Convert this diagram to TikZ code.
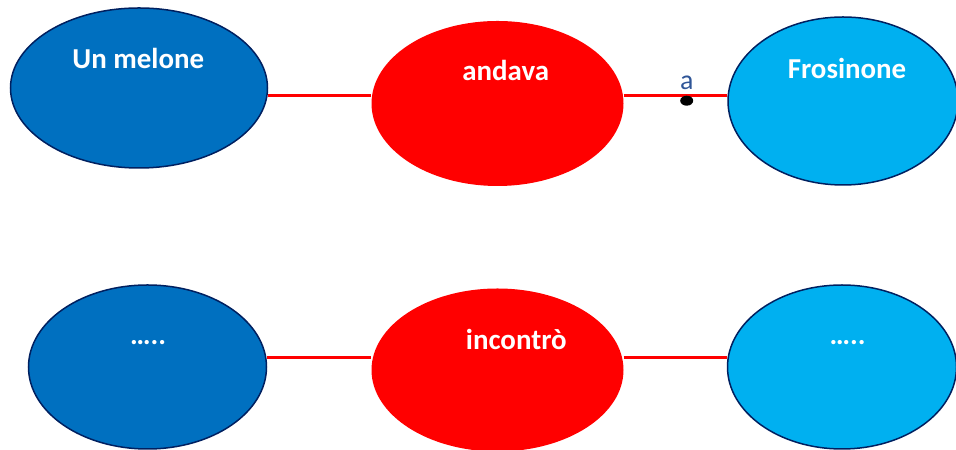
\documentclass[tikz,border=0pt]{standalone}
\usepackage{fontspec}
\setmainfont{Carlito}
\usetikzlibrary{shapes.geometric}
\definecolor{nodeblue1}{HTML}{0070C0}
\definecolor{nodeblue2}{HTML}{00B0F0}
\definecolor{nodeblue3}{HTML}{002060}
\definecolor{nodered1}{HTML}{FF0000}
\definecolor{labelblue}{HTML}{2F5597}
\tikzset{
  parola/.style={ellipse, inner sep=0pt},
  bordo/.style={draw=nodeblue3, line width=1.5bp},
  testo/.style={anchor=base, inner sep=0pt, text=white, font=\fontsize{29}{34}\selectfont\bfseries},
  legame/.style={draw=nodered1, line width=2.6bp}
}

\begin{document}
\begin{tikzpicture}[x=1bp,y=1bp]
   \useasboundingbox (0,0) rectangle (956,450);
   % prima frase
   \node(sogg1)[parola, bordo, fill=nodeblue1, minimum width=257bp, minimum height=160bp] at (139,362) {};
   \node(verbo1)[parola, fill=nodered1, minimum width=252bp, minimum height=165bp] at (497.5,346.5) {};
   \node(compl1)[parola, bordo, fill=nodeblue2, minimum width=230bp, minimum height=168bp] at (843,349) {};
   % seconda frase
   \node(sogg2)[parola, bordo, fill=nodeblue1, minimum width=238bp, minimum height=164bp] at (147.5,83) {};
   \node(verbo2)[parola, fill=nodered1, minimum width=252bp, minimum height=163bp] at (497.5,80) {};
   \node(compl2)[parola, bordo, fill=nodeblue2, minimum width=229bp, minimum height=164bp] at (842,83) {};
   \coordinate (liv1) at (0,354.3);
   \coordinate (liv2) at (0,92.3);
   \draw[legame] (sogg1.east |- liv1) -- (verbo1.west |- liv1);
   \draw[legame] (verbo1.east |- liv1) -- (compl1.west |- liv1);
   \draw[legame] (sogg2.east |- liv2) -- (verbo2.west |- liv2);
   \draw[legame] (verbo2.east |- liv2) -- (compl2.west |- liv2);
   \node(punto)[ellipse, fill=black, inner sep=0pt, minimum width=13bp, minimum height=10bp] at (686.7,349.3) {};
   \node(prep)[anchor=base, inner sep=0pt, text=labelblue, font=\fontsize{28}{34}\selectfont] at (686.7,360.7) {a};
   \node(t1)[testo] at (138.3,381.7) {Un melone};
   \node(t2)[testo] at (505.7,369) {andava};
   \node(t3)[testo] at (847,371.7) {Frosinone};
   \node(t4)[testo] at (148,105.5) {…..};
   \node(t5)[testo] at (516.3,100) {incontrò};
   \node(t6)[testo] at (847.5,105.5) {…..};
\end{tikzpicture}
\end{document}
